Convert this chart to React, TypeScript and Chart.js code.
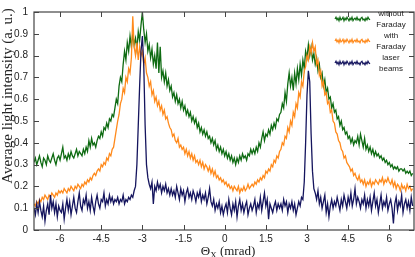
import React, { useEffect, useRef } from "react";
import { Chart, registerables } from "chart.js";

Chart.register(...registerables);

// Angle grid (mrad): uniform sampling start & step
const THETA_START = -6.95;
const THETA_STEP = 0.05;

const withoutFaraday = [
  0.31,0.33,0.30,0.32,0.34,0.31,0.29,0.33,0.32,0.30,0.34,0.32,0.31,0.33,0.35,0.32,0.30,0.33,0.34,0.32,
  0.35,0.38,0.33,0.34,0.32,0.35,0.33,0.36,0.34,0.33,0.35,0.37,0.34,0.36,0.35,0.34,0.37,0.35,0.38,0.36,
  0.41,0.38,0.42,0.39,0.40,0.38,0.41,0.43,0.42,0.45,0.43,0.47,0.46,0.49,0.47,0.51,0.50,0.53,0.52,0.56,
  0.60,0.58,0.66,0.70,0.68,0.76,0.82,0.78,0.86,0.82,0.89,0.84,0.90,0.85,0.88,0.83,0.91,0.87,0.94,1.00,
  0.92,0.86,0.90,0.82,0.85,0.79,0.83,0.76,0.80,0.74,0.86,0.72,0.84,0.70,0.73,0.68,0.72,0.66,0.69,0.64,
  0.66,0.61,0.63,0.59,0.62,0.58,0.60,0.56,0.59,0.55,0.57,0.53,0.55,0.52,0.54,0.50,0.52,0.49,0.51,0.47,
  0.49,0.45,0.47,0.44,0.46,0.43,0.45,0.42,0.43,0.40,0.42,0.39,0.41,0.37,0.39,0.36,0.38,0.35,0.37,0.34,
  0.36,0.33,0.35,0.32,0.34,0.31,0.33,0.30,0.33,0.31,0.34,0.32,0.35,0.33,0.34,0.32,0.35,0.34,0.37,0.35,
  0.37,0.35,0.38,0.36,0.40,0.38,0.42,0.45,0.41,0.44,0.43,0.46,0.44,0.48,0.46,0.49,0.47,0.51,0.50,0.53,
  0.54,0.58,0.56,0.63,0.59,0.67,0.72,0.66,0.70,0.64,0.72,0.67,0.74,0.69,0.76,0.71,0.78,0.74,0.82,0.79,
  0.85,0.80,0.84,0.78,0.81,0.76,0.79,0.73,0.76,0.70,0.72,0.66,0.69,0.63,0.65,0.60,0.61,0.56,0.58,0.54,
  0.55,0.51,0.52,0.48,0.50,0.46,0.47,0.44,0.45,0.42,0.43,0.40,0.42,0.39,0.41,0.40,0.43,0.39,0.44,0.41,
  0.38,0.42,0.37,0.39,0.36,0.38,0.35,0.37,0.34,0.36,0.34,0.35,0.33,0.34,0.32,0.33,0.31,0.32,0.30,0.31,
  0.29,0.30,0.28,0.29,0.28,0.29,0.27,0.28,0.28,0.27,0.28,0.26,0.27,0.26,0.27,0.25,0.26,
];

const withFaraday = [
  0.12,0.11,0.13,0.12,0.14,0.13,0.15,0.14,0.16,0.15,0.14,0.16,0.15,0.17,0.16,0.15,0.17,0.16,0.18,0.17,
  0.18,0.17,0.19,0.18,0.17,0.19,0.18,0.20,0.19,0.18,0.20,0.19,0.21,0.20,0.19,0.21,0.20,0.22,0.21,0.23,
  0.22,0.24,0.23,0.25,0.26,0.25,0.27,0.28,0.27,0.30,0.29,0.31,0.30,0.33,0.32,0.35,0.34,0.37,0.38,0.42,
  0.46,0.50,0.53,0.58,0.60,0.65,0.63,0.70,0.68,0.74,0.72,0.79,0.98,0.84,0.80,0.86,0.78,0.84,0.80,0.82,
  0.76,0.79,0.72,0.70,0.66,0.68,0.62,0.64,0.59,0.61,0.57,0.59,0.55,0.57,0.53,0.55,0.51,0.52,0.49,0.47,
  0.46,0.43,0.44,0.41,0.40,0.42,0.38,0.39,0.37,0.38,0.35,0.37,0.34,0.36,0.33,0.35,0.32,0.34,0.31,0.32,
  0.30,0.32,0.29,0.31,0.28,0.30,0.29,0.27,0.29,0.26,0.28,0.25,0.27,0.24,0.25,0.23,0.24,0.22,0.23,0.21,
  0.22,0.20,0.21,0.19,0.20,0.18,0.20,0.19,0.18,0.20,0.17,0.19,0.18,0.20,0.18,0.19,0.21,0.19,0.20,0.21,
  0.20,0.22,0.21,0.23,0.22,0.24,0.23,0.25,0.24,0.27,0.26,0.28,0.27,0.30,0.29,0.32,0.31,0.34,0.33,0.36,
  0.37,0.40,0.39,0.43,0.42,0.47,0.45,0.50,0.48,0.54,0.52,0.58,0.56,0.63,0.61,0.68,0.66,0.73,0.75,0.80,
  0.78,0.84,0.81,0.86,0.82,0.84,0.76,0.78,0.71,0.73,0.66,0.68,0.62,0.63,0.58,0.59,0.54,0.55,0.50,0.49,
  0.45,0.44,0.41,0.40,0.37,0.36,0.33,0.34,0.31,0.30,0.29,0.27,0.28,0.25,0.26,0.24,0.23,0.25,0.22,0.23,
  0.21,0.23,0.20,0.22,0.21,0.23,0.20,0.22,0.21,0.23,0.22,0.21,0.23,0.22,0.24,0.21,0.23,0.22,0.24,0.22,
  0.21,0.23,0.20,0.22,0.19,0.21,0.20,0.18,0.21,0.19,0.20,0.18,0.21,0.19,0.20,0.18,0.19,
];

const laserBeams = [
  0.10,0.07,0.12,0.08,0.13,0.09,0.06,0.11,0.04,0.09,0.12,0.07,0.16,0.10,0.13,0.08,0.12,0.06,0.11,0.09,
  0.08,0.12,0.05,0.10,0.14,0.09,0.13,0.07,0.11,0.15,0.10,0.08,0.13,0.17,0.11,0.09,0.14,0.12,0.16,0.10,
  0.13,0.09,0.15,0.11,0.08,0.13,0.16,0.12,0.10,0.14,0.13,0.17,0.11,0.14,0.12,0.16,0.13,0.15,0.12,0.14,
  0.13,0.15,0.12,0.14,0.13,0.16,0.12,0.14,0.13,0.15,0.14,0.16,0.15,0.18,0.20,0.30,0.48,0.66,0.82,0.89,
  0.76,0.48,0.30,0.24,0.21,0.19,0.22,0.12,0.20,0.18,0.22,0.19,0.21,0.17,0.20,0.18,0.21,0.17,0.19,0.16,
  0.19,0.16,0.18,0.15,0.20,0.17,0.14,0.19,0.16,0.18,0.13,0.17,0.19,0.15,0.17,0.14,0.18,0.16,0.13,0.17,
  0.15,0.18,0.13,0.16,0.14,0.17,0.12,0.15,0.19,0.13,0.11,0.14,0.09,0.12,0.10,0.13,0.08,0.11,0.07,0.10,
  0.12,0.08,0.14,0.10,0.07,0.12,0.09,0.13,0.06,0.11,0.14,0.09,0.12,0.08,0.11,0.13,0.07,0.10,0.12,0.09,
  0.11,0.14,0.08,0.12,0.10,0.15,0.09,0.13,0.17,0.11,0.14,0.05,0.12,0.10,0.08,0.11,0.13,0.09,0.12,0.10,
  0.12,0.09,0.14,0.11,0.13,0.08,0.12,0.10,0.13,0.09,0.12,0.07,0.10,0.13,0.11,0.15,0.14,0.22,0.40,0.62,
  0.73,0.68,0.44,0.27,0.19,0.17,0.14,0.18,0.12,0.15,0.10,0.13,0.16,0.08,0.12,0.06,0.11,0.14,0.10,0.13,
  0.11,0.15,0.12,0.09,0.14,0.11,0.16,0.13,0.10,0.15,0.12,0.17,0.11,0.14,0.19,0.12,0.15,0.13,0.10,0.14,
  0.12,0.16,0.10,0.14,0.11,0.15,0.09,0.13,0.17,0.11,0.14,0.08,0.12,0.16,0.10,0.13,0.11,0.15,0.09,0.12,
  0.14,0.10,0.03,0.12,0.15,0.09,0.13,0.11,0.16,0.08,0.12,0.14,0.10,0.13,0.09,0.15,0.11,
];

const thetaX = withoutFaraday.map((_, i) => Math.round((THETA_START + i * THETA_STEP) * 100) / 100);

const xTicks = [-6, -4.5, -3, -1.5, 0, 1.5, 3, 4.5, 6];
const yTicks = [0, 0.1, 0.2, 0.3, 0.4, 0.5, 0.6, 0.7, 0.8, 0.9, 1];
const X_MIN = -6.95;
const X_MAX = 6.9;

const seriesNames = [["without", "Faraday"], ["with", "Faraday"], ["laser", "beams"]];
const seriesColors = ["#0e6b12", "#ff8a1c", "#15155e"];
const yTitle = "Average light intensity (a. u.)";

const AXIS_COLOR = "#444";
const TEXT_COLOR = "#222";

const framePlugin = {
  id: "frame",
  afterDatasetsDraw(chart: any) {
    const { ctx, chartArea: a, scales } = chart;
    ctx.save();
    ctx.strokeStyle = AXIS_COLOR;
    ctx.lineWidth = 1.2;
    ctx.strokeRect(a.left, a.top, a.right - a.left, a.bottom - a.top);
    const tl = 5;
    ctx.lineWidth = 1;
    ctx.beginPath();
    xTicks.forEach((v) => {
      const x = Math.round(scales.x.getPixelForValue(v)) + 0.5;
      ctx.moveTo(x, a.bottom);
      ctx.lineTo(x, a.bottom - tl);
      ctx.moveTo(x, a.top);
      ctx.lineTo(x, a.top + tl);
    });
    yTicks.forEach((v) => {
      const y = Math.round(scales.y.getPixelForValue(v)) + 0.5;
      ctx.moveTo(a.left, y);
      ctx.lineTo(a.left + tl, y);
      ctx.moveTo(a.right, y);
      ctx.lineTo(a.right - tl, y);
    });
    ctx.stroke();

    // legend
    const zig = [0, -2, 1, -1, 2, -2, 1, 0, -2, 2, -1, 1, -2, 0, 2, -1, 1, -2, 2, 0, -1, 1, -2, 1, 0, 2, -1, -2, 1, 0, 2, -1, 1, -2, 0, 1];
    const sw = { x0: 335, x1: 370 };
    const rows = [19, 41, 63];
    ctx.lineWidth = 1.2;
    rows.forEach((cy, k) => {
      ctx.strokeStyle = seriesColors[k];
      ctx.beginPath();
      for (let j = 0; j < zig.length; j++) {
        const x = sw.x0 + ((sw.x1 - sw.x0) * j) / (zig.length - 1);
        const y = cy + zig[j] * 0.9;
        if (j === 0) ctx.moveTo(x, y);
        else ctx.lineTo(x, y);
      }
      ctx.stroke();
      ctx.fillStyle = TEXT_COLOR;
      ctx.font = "8px 'Liberation Sans', Arial, sans-serif";
      ctx.textAlign = "center";
      ctx.textBaseline = "middle";
      ctx.fillText(seriesNames[k][0], 391, cy - 5);
      ctx.fillText(seriesNames[k][1], 391, cy + 5.5);
    });
    ctx.restore();
  },
  afterDraw(chart: any) {
    const { ctx } = chart;
    ctx.save();
    ctx.fillStyle = TEXT_COLOR;
    // y title
    ctx.font = "15px 'Liberation Serif', 'Times New Roman', serif";
    ctx.translate(8, 96);
    ctx.rotate(-Math.PI / 2);
    ctx.textAlign = "center";
    ctx.textBaseline = "middle";
    ctx.fillText(yTitle, 0, 0);
    ctx.restore();

    // x title with subscript
    ctx.save();
    ctx.fillStyle = TEXT_COLOR;
    ctx.textBaseline = "alphabetic";
    ctx.textAlign = "left";
    const big = "13px 'Liberation Serif', 'Times New Roman', serif";
    const small = "9px 'Liberation Serif', 'Times New Roman', serif";
    const p1 = "\u0398";
    const p2 = "X";
    const p3 = " (mrad)";
    ctx.font = big;
    const w1 = ctx.measureText(p1).width;
    const w3 = ctx.measureText(p3).width;
    ctx.font = small;
    const w2 = ctx.measureText(p2).width;
    const total = w1 + w2 + w3;
    let x = 228 - total / 2;
    const base = 255;
    ctx.font = big;
    ctx.fillText(p1, x, base);
    x += w1;
    ctx.font = small;
    ctx.fillText(p2, x, base + 2.5);
    x += w2;
    ctx.font = big;
    ctx.fillText(p3, x, base);
    ctx.restore();
  },
};

export default function App() {
  const ref = useRef<HTMLCanvasElement | null>(null);
  useEffect(() => {
    if (!ref.current) return;
    const mk = (ys: number[]) => ys.map((y, i) => ({ x: thetaX[i], y }));
    const chart = new Chart(ref.current, {
      type: "line",
      data: {
        datasets: [
          { label: "without Faraday", data: mk(withoutFaraday), borderColor: seriesColors[0], order: 3 },
          { label: "with Faraday", data: mk(withFaraday), borderColor: seriesColors[1], order: 2 },
          { label: "laser beams", data: mk(laserBeams), borderColor: seriesColors[2], order: 1 },
        ].map((d) => ({ ...d, borderWidth: 1.3, pointRadius: 0, tension: 0, fill: false })),
      },
      options: {
        animation: false,
        responsive: false,
        devicePixelRatio: 1,
        layout: { padding: { top: 4, right: 1, left: 0, bottom: 0 } },
        plugins: { legend: { display: false }, tooltip: { enabled: false } },
        scales: {
          x: {
            type: "linear",
            min: X_MIN,
            max: X_MAX,
            afterBuildTicks: (s: any) => {
              s.ticks = xTicks.map((v) => ({ value: v }));
            },
            afterFit: (s: any) => {
              s.height = 27;
            },
            grid: { display: false, drawTicks: false },
            border: { display: false },
            ticks: {
              autoSkip: false,
              maxRotation: 0,
              padding: 3,
              color: TEXT_COLOR,
              font: { family: "'Liberation Sans', Arial, sans-serif", size: 10 },
              callback: (v: any) => String(v),
            },
          },
          y: {
            type: "linear",
            min: 0,
            max: 1,
            afterBuildTicks: (s: any) => {
              s.ticks = yTicks.map((v) => ({ value: v }));
            },
            afterFit: (s: any) => {
              s.width = 34;
            },
            grid: { display: false, drawTicks: false },
            border: { display: false },
            ticks: {
              autoSkip: false,
              padding: 6,
              color: TEXT_COLOR,
              font: { family: "'Liberation Sans', Arial, sans-serif", size: 10 },
              callback: (v: any) => String(v),
            },
          },
        },
      } as any,
      plugins: [framePlugin],
    });
    return () => chart.destroy();
  }, []);
  return (
    <div style={{ position: "absolute", left: 0, top: 0, width: 415, height: 257 }}>
      <canvas ref={ref} width={415} height={257} />
    </div>
  );
}
